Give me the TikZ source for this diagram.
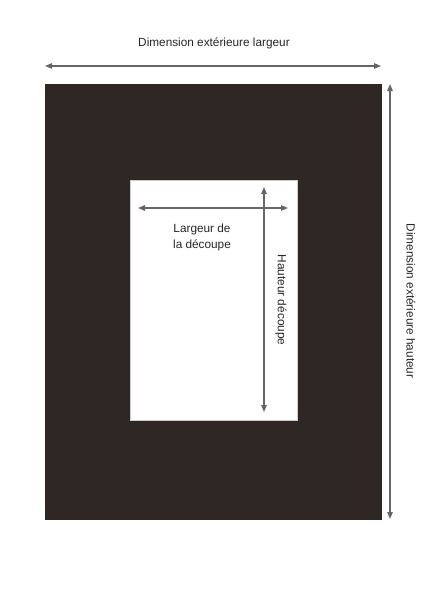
\documentclass[tikz,border=0pt]{standalone}
\usepackage{fontspec}
\setmainfont{Liberation Sans}
\usetikzlibrary{arrows.meta, positioning}
\definecolor{mattebrown}{RGB}{46,39,36}

\begin{document}
\begin{tikzpicture}[
						x=1pt, y=-1pt,
						matte/.style = {fill=mattebrown, draw=none, inner sep=0pt, anchor=north west},
						opening/.style = {fill=white, draw=gray!40, line width=0.8pt, inner sep=0pt, anchor=north west},
						dimline/.style = {draw=black!60, line width=1.3pt, {Triangle[length=7pt,width=5.5pt]}-{Triangle[length=7pt,width=5.5pt]}},
						label/.style = {font=\fontsize{11.8}{16}\selectfont, text=black!85, align=center}
					]
\useasboundingbox (0,0) rectangle (424,600);
\node[matte, minimum width=337pt, minimum height=436pt] (mat) at (45,84) {};
\node[opening, minimum width=167pt, minimum height=240pt] (win) at (129.5,179.5) {};

\coordinate (wl) at (45,66);
\coordinate (wr) at (381,66);
\coordinate (ht) at (390,84);
\coordinate (hb) at (390,519);
\coordinate (cl) at (138,208);
\coordinate (cr) at (288,208);
\coordinate (ct) at (264,187);
\coordinate (cb) at (264,412);

\node[label] (outw) at (214,43) {Dimension extérieure largeur};
\node[label, rotate=-90] (outh) at (411,301) {Dimension extérieure hauteur};
\node[label] (cutw) at (202,237) {Largeur de\\la découpe};
\node[label, rotate=-90] (cuth) at (281,300) {Hauteur découpe};

\draw[dimline] (wl) -- (wr);
\draw[dimline] (ht) -- (hb);
\draw[dimline] (cl) -- (cr);
\draw[dimline] (ct) -- (cb);
\end{tikzpicture}
\end{document}
